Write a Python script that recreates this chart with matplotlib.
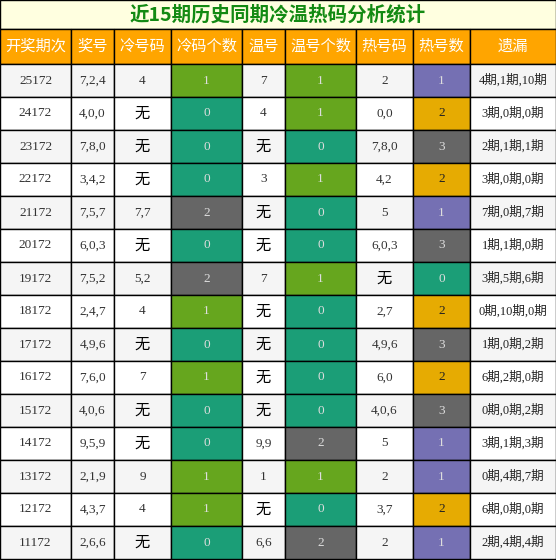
import matplotlib.pyplot as plt
from matplotlib.patches import Rectangle

title = '近15期历史同期冷温热码分析统计'
headers = ['开奖期次', '奖号', '冷号码', '冷码个数', '温号', '温号个数', '热号码', '热号数', '遗漏']
periods = ['25172', '24172', '23172', '22172', '21172', '20172', '19172', '18172',
           '17172', '16172', '15172', '14172', '13172', '12172', '11172']
numbers = ['7,2,4', '4,0,0', '7,8,0', '3,4,2', '7,5,7', '6,0,3', '7,5,2', '2,4,7',
           '4,9,6', '7,6,0', '4,0,6', '9,5,9', '2,1,9', '4,3,7', '2,6,6']
cold = ['4', '无', '无', '无', '7,7', '无', '5,2', '4', '无', '7', '无', '无', '9', '4', '无']
cold_n = [1, 0, 0, 0, 2, 0, 2, 1, 0, 1, 0, 0, 1, 1, 0]
warm = ['7', '4', '无', '3', '无', '无', '7', '无', '无', '无', '无', '9,9', '1', '无', '6,6']
warm_n = [1, 1, 0, 1, 0, 0, 1, 0, 0, 0, 0, 2, 1, 0, 2]
hot = ['2', '0,0', '7,8,0', '4,2', '5', '6,0,3', '无', '2,7', '4,9,6', '6,0', '4,0,6', '5', '2', '3,7', '2']
hot_n = [1, 2, 3, 2, 1, 3, 0, 2, 3, 2, 3, 1, 1, 2, 1]
miss = ['4期,1期,10期', '3期,0期,0期', '2期,1期,1期', '3期,0期,0期', '7期,0期,7期',
        '1期,1期,0期', '3期,5期,6期', '0期,10期,0期', '1期,0期,2期', '6期,2期,0期',
        '0期,0期,2期', '3期,1期,3期', '0期,4期,7期', '6期,0期,0期', '2期,4期,4期']

col_x = [0, 71, 114, 171, 242, 285, 356, 413, 470, 556]
cw_colors = {0: '#1b9e77', 1: '#66a61e', 2: '#666666'}
hot_colors = {0: '#1b9e77', 1: '#7570b3', 2: '#e6ab02', 3: '#666666'}

plt.rcParams['font.family'] = ['Liberation Serif', 'Noto Sans CJK SC']
fig = plt.figure(figsize=(5.56, 5.6), dpi=100)
ax = fig.add_axes([0, 0, 1, 1])
ax.set_xlim(0, 556)
ax.set_ylim(560, 0)
ax.axis('off')

def cell(x0, x1, y0, y1, fc, text, color='#333333', size=9.5, family=None, weight='normal'):
    ax.add_patch(Rectangle((x0, y0), x1 - x0, y1 - y0, facecolor=fc, edgecolor='black', lw=1))
    fam = family or (['Noto Sans CJK SC'] if text == '无' else ['Liberation Serif', 'Noto Sans CJK SC'])
    if text == '无':
        size = 11
        color = 'black'
    ax.text((x0 + x1) / 2, (y0 + y1) / 2, text, ha='center', va='center', color=color,
            fontsize=size, family=fam, weight=weight)

cell(0, 556, 0, 29, '#ffffe0', title, color='#138a13', size=14,
     family=['Noto Sans CJK SC'], weight='bold')
for j, h in enumerate(headers):
    cell(col_x[j], col_x[j + 1], 29, 64, '#ffa500', h, color='white', size=11,
         family=['Noto Sans CJK SC'])

row_h = (559 - 64) / len(periods)
for i in range(len(periods)):
    y0 = 64 + i * row_h
    y1 = y0 + row_h
    bg = '#f5f5f5' if i % 2 == 0 else 'white'
    hc = hot_colors[hot_n[i]]
    vals = [
        (periods[i], bg, '#333333'), (numbers[i], bg, '#333333'), (cold[i], bg, '#333333'),
        (str(cold_n[i]), cw_colors[cold_n[i]], '#dddddd'), (warm[i], bg, '#333333'),
        (str(warm_n[i]), cw_colors[warm_n[i]], '#dddddd'), (hot[i], bg, '#333333'),
        (str(hot_n[i]), hc, '#222222' if hot_n[i] == 2 else '#dddddd'), (miss[i], bg, '#222222'),
    ]
    for j, (t, fc, tc) in enumerate(vals):
        cell(col_x[j], col_x[j + 1], y0, y1, fc, t, color=tc,
             size=9 if j == 8 else 9.5)

fig.savefig('out.png', dpi=100)
